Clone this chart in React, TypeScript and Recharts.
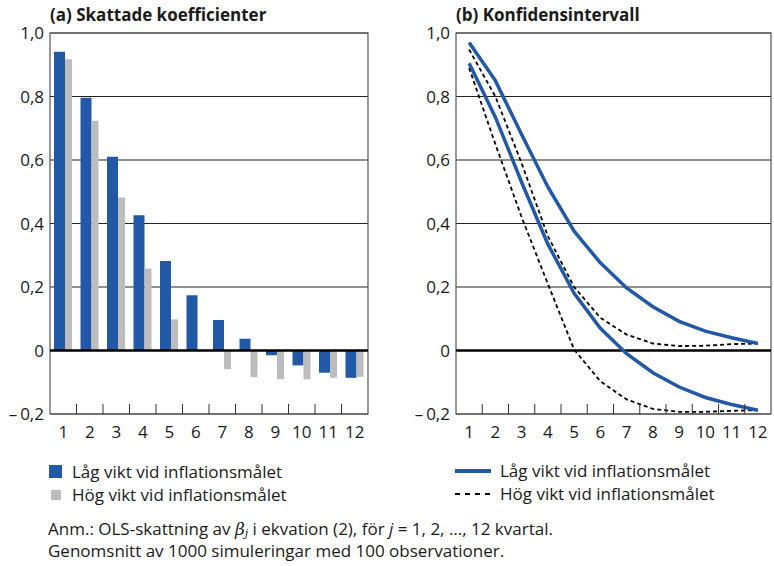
import React from 'react';
import {
  BarChart,
  Bar,
  LineChart,
  Line,
  XAxis,
  YAxis,
  CartesianGrid,
  ReferenceLine,
  ReferenceArea,
} from 'recharts';

const quarters = ['1', '2', '3', '4', '5', '6', '7', '8', '9', '10', '11', '12'];

// (a) estimated coefficients
const lowWeightCoef = [0.941, 0.796, 0.61, 0.426, 0.282, 0.174, 0.096, 0.037, -0.015, -0.047, -0.07, -0.086];
const highWeightCoef = [0.917, 0.724, 0.482, 0.258, 0.098, 0, -0.059, -0.084, -0.091, -0.091, -0.086, -0.083];

// (b) confidence bands
const lowWeightUpper = [0.97, 0.85, 0.68, 0.515, 0.376, 0.276, 0.197, 0.138, 0.092, 0.061, 0.04, 0.022];
const lowWeightLower = [0.905, 0.735, 0.53, 0.335, 0.18, 0.07, -0.01, -0.07, -0.115, -0.148, -0.17, -0.188];
const highWeightUpper = [0.948, 0.8, 0.59, 0.36, 0.2, 0.103, 0.05, 0.022, 0.014, 0.015, 0.02, 0.022];
const highWeightLower = [0.89, 0.65, 0.42, 0.21, 0.003, -0.097, -0.154, -0.184, -0.193, -0.193, -0.19, -0.188];

const yTicks = [-0.2, 0, 0.2, 0.4, 0.6, 0.8, 1.0];

const labelLow = 'Låg vikt vid inflationsmålet';
const labelHigh = 'Hög vikt vid inflationsmålet';

const BLUE = '#2159a6';
const GRAY = '#bdbdbd';
const FONT = '"Open Sans", "Noto Sans", sans-serif';
const INK = '#1a1a1a';

const barData = quarters.map((q, i) => ({
  q,
  low: lowWeightCoef[i],
  high: highWeightCoef[i],
}));

const lineData = quarters.map((q, i) => ({
  q,
  lowUp: lowWeightUpper[i],
  lowDown: lowWeightLower[i],
  highUp: highWeightUpper[i],
  highDown: highWeightLower[i],
}));

const fmtY = (v: number) => {
  if (v === 0) return '0';
  const s = Math.abs(v).toFixed(1).replace('.', ',');
  return v < 0 ? '\u2013\u2009' + s : s;
};

// category label in the middle, small inward tick at the left boundary
const CatTick = (props: any) => {
  const { x, y, payload, index, width } = props;
  const half = payload && payload.offset ? payload.offset : width / quarters.length / 2;
  return (
    <g>
      {index > 0 && (
        <line x1={x - half} x2={x - half} y1={y} y2={y - 10} stroke="#333" strokeWidth={1} />
      )}
      <text x={x} y={y + 18} dy="0.355em" textAnchor="middle" fontSize={17} fontFamily={FONT} fill={INK}>
        {payload.value}
      </text>
    </g>
  );
};

const yTickStyle = { fontSize: 17, fontFamily: FONT, fill: INK };

const titleStyle: React.CSSProperties = {
  position: 'absolute',
  top: 4,
  fontFamily: FONT,
  fontWeight: 'bold',
  fontSize: 17,
  lineHeight: '22px',
  color: INK,
  whiteSpace: 'nowrap',
};

const legendRow: React.CSSProperties = {
  display: 'flex',
  alignItems: 'center',
  height: 23,
  fontFamily: FONT,
  fontSize: 17,
  color: INK,
  whiteSpace: 'nowrap',
};

export default function App() {
  return (
    <div style={{ position: 'absolute', left: 0, top: 0, width: 774, height: 566, background: '#fff' }}>
      <div style={{ ...titleStyle, left: 50 }}>(a) Skattade koefficienter</div>
      <div style={{ ...titleStyle, left: 456 }}>(b) Konfidensintervall</div>

      <div style={{ position: 'absolute', left: 0, top: 0 }}>
        <BarChart
          width={380}
          height={445}
          data={barData}
          margin={{ top: 33, right: 12, bottom: 0, left: 0 }}
          barGap={0}
        >
          <CartesianGrid vertical={false} stroke="#222" />
          <XAxis
            dataKey="q"
            height={31}
            axisLine={false}
            tickLine={false}
            tickSize={0}
            tickMargin={0}
            interval={0}
            tick={<CatTick />}
          />
          <YAxis
            domain={[-0.2, 1]}
            ticks={yTicks}
            width={50}
            axisLine={false}
            tickLine={false}
            tickSize={0}
            tickMargin={6}
            tickFormatter={fmtY}
            tick={yTickStyle}
            allowDataOverflow
          />
          <Bar dataKey="low" fill={BLUE} barSize={11} isAnimationActive={false} />
          <Bar dataKey="high" fill={GRAY} barSize={7} isAnimationActive={false} />
          <ReferenceLine y={0} stroke="#000" strokeWidth={2.5} />
          <ReferenceArea y1={-0.2} y2={1} fill="none" fillOpacity={0} stroke="#555" strokeWidth={1.2} />
        </BarChart>
      </div>

      <div style={{ position: 'absolute', left: 390, top: 0 }}>
        <LineChart
          width={384}
          height={445}
          data={lineData}
          margin={{ top: 33, right: 3, bottom: 0, left: 0 }}
        >
          <CartesianGrid vertical={false} stroke="#222" />
          <XAxis
            dataKey="q"
            scale="band"
            height={31}
            axisLine={false}
            tickLine={false}
            tickSize={0}
            tickMargin={0}
            interval={0}
            tick={<CatTick />}
          />
          <YAxis
            domain={[-0.2, 1]}
            ticks={yTicks}
            width={66}
            axisLine={false}
            tickLine={false}
            tickSize={0}
            tickMargin={6}
            tickFormatter={fmtY}
            tick={yTickStyle}
            allowDataOverflow
          />
          <ReferenceLine y={0} stroke="#000" strokeWidth={2.5} />
          <Line dataKey="highUp" stroke="#000" strokeWidth={1.8} strokeDasharray="4 3" dot={false} isAnimationActive={false} />
          <Line dataKey="highDown" stroke="#000" strokeWidth={1.8} strokeDasharray="4 3" dot={false} isAnimationActive={false} />
          <Line dataKey="lowUp" stroke={BLUE} strokeWidth={3.5} dot={false} isAnimationActive={false} />
          <Line dataKey="lowDown" stroke={BLUE} strokeWidth={3.5} dot={false} isAnimationActive={false} />
          <ReferenceArea y1={-0.2} y2={1} fill="none" fillOpacity={0} stroke="#555" strokeWidth={1.2} />
        </LineChart>
      </div>

      <div style={{ position: 'absolute', left: 49, top: 460 }}>
        <div style={legendRow}>
          <span style={{ display: 'inline-block', width: 13, height: 13, background: BLUE, marginRight: 10 }} />
          {labelLow}
        </div>
        <div style={legendRow}>
          <span style={{ display: 'inline-block', width: 10, height: 10, background: GRAY, margin: '0 11px 0 2px' }} />
          {labelHigh}
        </div>
      </div>

      <div style={{ position: 'absolute', left: 455, top: 459 }}>
        <div style={legendRow}>
          <svg width={36} height={6} style={{ marginRight: 9 }}>
            <line x1={0} x2={36} y1={3} y2={3} stroke={BLUE} strokeWidth={4} />
          </svg>
          {labelLow}
        </div>
        <div style={legendRow}>
          <svg width={36} height={4} style={{ marginRight: 9 }}>
            <line x1={0} x2={35} y1={2} y2={2} stroke="#000" strokeWidth={1.8} strokeDasharray="5 5" />
          </svg>
          {labelHigh}
        </div>
      </div>

      <div
        style={{
          position: 'absolute',
          left: 48,
          top: 518,
          fontFamily: FONT,
          fontSize: 17,
          lineHeight: '22px',
          color: INK,
          whiteSpace: 'nowrap',
        }}
      >
        <div style={{ height: 22 }}>
          Anm.: OLS-skattning av{' '}
          <i style={{ fontFamily: '"DejaVu Serif", serif' }}>
            β
            <span style={{ fontSize: 11, lineHeight: 0, position: 'relative', top: 2 }}>j</span>
          </i>{' '}
          i ekvation (2), för <i>j</i> = 1, 2, …, 12 kvartal.
        </div>
        <div style={{ height: 22 }}>Genomsnitt av 1000 simuleringar med 100 observationer.</div>
      </div>
    </div>
  );
}
